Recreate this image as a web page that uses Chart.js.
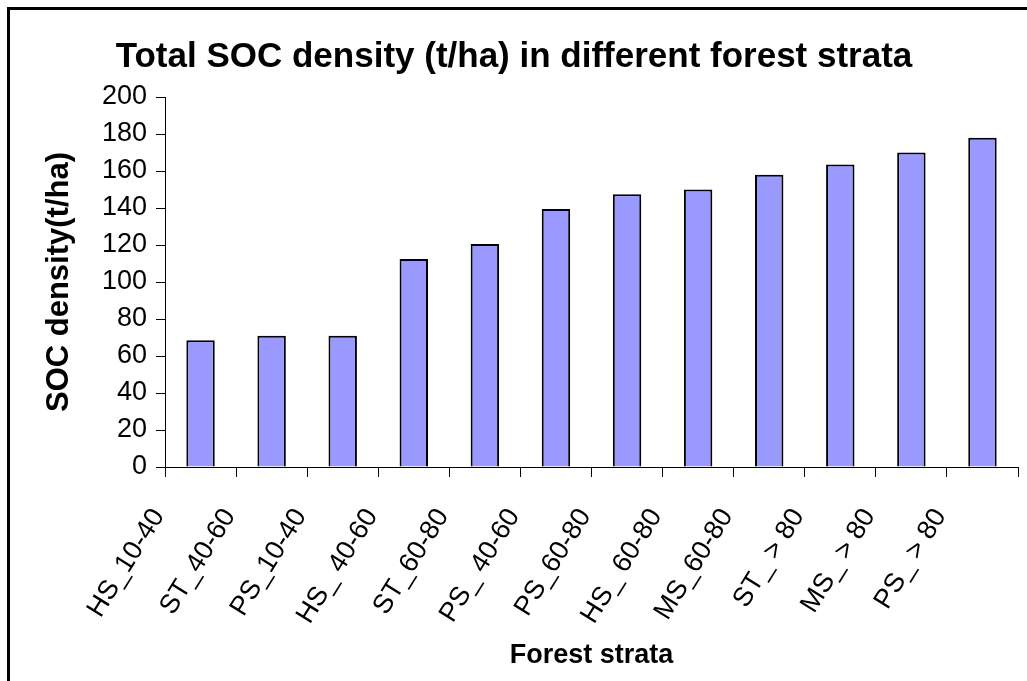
<!DOCTYPE html>
<html>
<head>
<meta charset="utf-8">
<script src="https://cdn.jsdelivr.net/npm/chart.js@4.4.0/dist/chart.umd.min.js"></script>
<style>
    html, body { margin: 0; padding: 0; background: #fff; overflow: hidden; }
    #wrap { position: relative; width: 1027px; height: 681px; }
    #frame { position: absolute; left: 7px; top: 7px; width: 1100px; height: 800px; border: 3px solid #000; box-sizing: border-box; pointer-events: none; }
    canvas { position: absolute; left: 0; top: 0; }
</style>
</head>
<body>
<div id="wrap">
    <canvas id="socChart" width="1027" height="681"></canvas>
    <div id="frame"></div>
</div>
<script>
// forest strata and total SOC density (t/ha)
const strata = ['HS_10-40', 'ST_40-60', 'PS_10-40', 'HS_ 40-60', 'ST_60-80', 'PS_ 40-60',
    'PS_60-80', 'HS_ 60-80', 'MS_60-80', 'ST_ > 80', 'MS_ > 80', 'PS_ > 80'];
const socDensity = [68.5, 71, 71, 112.5, 120.5, 139.5, 147.5, 150, 158, 163.5, 170, 178];
const yMin = 0;
const yMax = 200;
const yStep = 20;

const regular = "'Liberation Sans', Arial, sans-serif";

window.addEventListener('load', () => {
    const ctx = document.getElementById('socChart');

    new Chart(ctx, {
        type: 'bar',
        data: {
            labels: strata,
            datasets: [{
                label: 'SOC density',
                data: socDensity,
                backgroundColor: '#9999FF',
                borderColor: '#000',
                borderWidth: 2,
                barPercentage: 0.4,
                categoryPercentage: 1
            }]
        },
        options: {
            responsive: false,
            animation: false,
            layout: { padding: { left: 10, right: 9, top: 10, bottom: 8 } },
            plugins: {
                legend: { display: false },
                tooltip: { enabled: false },
                title: {
                    display: true,
                    text: 'Total SOC density (t/ha) in different forest strata',
                    color: '#000',
                    font: { family: regular, size: 35, weight: 'bold' },
                    padding: { top: 26, bottom: 19 }
                }
            },
            scales: {
                x: {
                    grid: { display: true, drawOnChartArea: false, offset: true, tickLength: 10, color: '#000' },
                    border: { display: true, color: '#000', width: 1 },
                    ticks: {
                        color: '#000',
                        font: { family: regular, size: 27 },
                        minRotation: 58,
                        maxRotation: 58,
                        autoSkip: false,
                        padding: 26,
                        labelOffset: -42
                    },
                    title: {
                        display: true,
                        text: 'Forest strata',
                        color: '#000',
                        font: { family: regular, size: 27, weight: 'bold' },
                        padding: { top: 0, bottom: 1 }
                    },
                    afterFit: (scale) => {
                        scale.height = 206;
                        scale.paddingRight = 0;
                    }
                },
                y: {
                    min: yMin,
                    max: yMax,
                    grid: { display: true, drawOnChartArea: false, tickLength: 9, color: '#000' },
                    border: { display: true, color: '#000', width: 1 },
                    ticks: {
                        stepSize: yStep,
                        autoSkip: false,
                        color: '#000',
                        font: { family: regular, size: 27 },
                        padding: 9
                    },
                    title: {
                        display: true,
                        text: 'SOC density(t/ha)',
                        color: '#000',
                        font: { family: regular, size: 31, weight: 'bold' },
                        padding: { top: 31, bottom: 0 }
                    },
                    afterFit: (scale) => { scale.width = 155; }
                }
            }
        }
    });
});
</script>
</body>
</html>
